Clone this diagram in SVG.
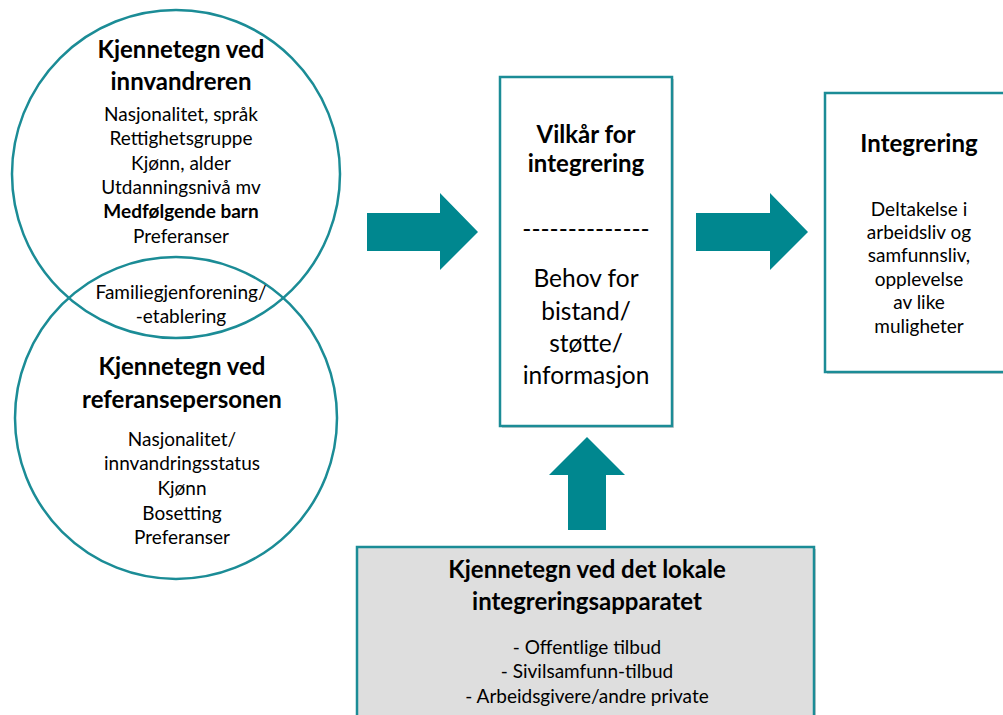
<svg xmlns="http://www.w3.org/2000/svg" width="1003" height="715" viewBox="0 0 1003 715">
<style>
  .c{fill:none;stroke:#1b8c96;stroke-width:2.5}
  .box{fill:#fff;stroke:#1b8c96;stroke-width:2.5}
  .gbox{fill:#dedede;stroke:#1b8c96;stroke-width:2.5}
  .sh{fill:#000;opacity:0.18}
  .arr{fill:#00878f}
  text{font-family:Lato,"Open Sans","Liberation Sans",sans-serif;fill:#000;text-anchor:middle}
  .t{font-size:24px;font-weight:bold}
  .b{font-size:19px}
  .bb{font-size:19px;font-weight:bold}
  .m{font-size:24.5px}
</style>
<rect width="1003" height="715" fill="#fff"/>
<g id="connectors">
  <polygon class="arr" points="367,213 440,213 440,193 478,232 440,270 440,251 367,251"/>
  <polygon class="arr" points="696,213 770,213 770,193 808,232 770,270 770,251 696,251"/>
  <polygon class="arr" points="568,530 568,475 549,475 587,437 625,475 606,475 606,530"/>
</g>
<g id="innvandreren">
  <circle class="c" cx="176" cy="174" r="164"/>
  <text class="t" x="181" y="58">Kjennetegn ved</text>
  <text class="t" x="181" y="90">innvandreren</text>
  <text class="b" x="181" y="121">Nasjonalitet, språk</text>
  <text class="b" x="181" y="145">Rettighetsgruppe</text>
  <text class="b" x="181" y="170">Kjønn, alder</text>
  <text class="b" x="181" y="194">Utdanningsnivå mv</text>
  <text class="bb" x="181" y="218">Medfølgende barn</text>
  <text class="b" x="181" y="243">Preferanser</text>
</g>
<g id="referansepersonen">
  <circle class="c" cx="176" cy="418" r="161"/>
  <text class="b" x="181" y="299">Familiegjenforening/</text>
  <text class="b" x="181" y="323">-etablering</text>
  <text class="t" x="182" y="375">Kjennetegn ved</text>
  <text class="t" x="182" y="408">referansepersonen</text>
  <text class="b" x="182" y="446">Nasjonalitet/</text>
  <text class="b" x="182" y="470">innvandringsstatus</text>
  <text class="b" x="182" y="495">Kjønn</text>
  <text class="b" x="182" y="520">Bosetting</text>
  <text class="b" x="182" y="544">Preferanser</text>
</g>
<g id="vilkar">
  <rect class="sh" x="502" y="79" width="172" height="349"/>
  <rect class="box" x="500" y="77" width="172" height="349"/>
  <text class="t" x="586" y="143">Vilkår for</text>
  <text class="t" x="586" y="172">integrering</text>
  <text class="m" x="586" y="238">--------------</text>
  <text class="m" x="586" y="287">Behov for</text>
  <text class="m" x="586" y="320">bistand/</text>
  <text class="m" x="586" y="352">støtte/</text>
  <text class="m" x="586" y="384">informasjon</text>
</g>
<g id="integrering">
  <rect class="sh" x="827" y="95" width="190" height="279"/>
  <rect class="box" x="825" y="93" width="190" height="279"/>
  <text class="t" x="919" y="152">Integrering</text>
  <text class="b" x="919" y="216">Deltakelse i</text>
  <text class="b" x="919" y="239">arbeidsliv og</text>
  <text class="b" x="919" y="262">samfunnsliv,</text>
  <text class="b" x="919" y="286">opplevelse</text>
  <text class="b" x="919" y="309">av like</text>
  <text class="b" x="919" y="333">muligheter</text>
</g>
<g id="lokale">
  <rect class="sh" x="359" y="549" width="457" height="180"/>
  <rect class="gbox" x="357" y="547" width="457" height="180"/>
  <text class="t" x="587" y="578">Kjennetegn ved det lokale</text>
  <text class="t" x="587" y="610">integreringsapparatet</text>
  <text class="b" x="587" y="654">- Offentlige tilbud</text>
  <text class="b" x="587" y="678">- Sivilsamfunn-tilbud</text>
  <text class="b" x="587" y="703">- Arbeidsgivere/andre private</text>
</g>
</svg>
